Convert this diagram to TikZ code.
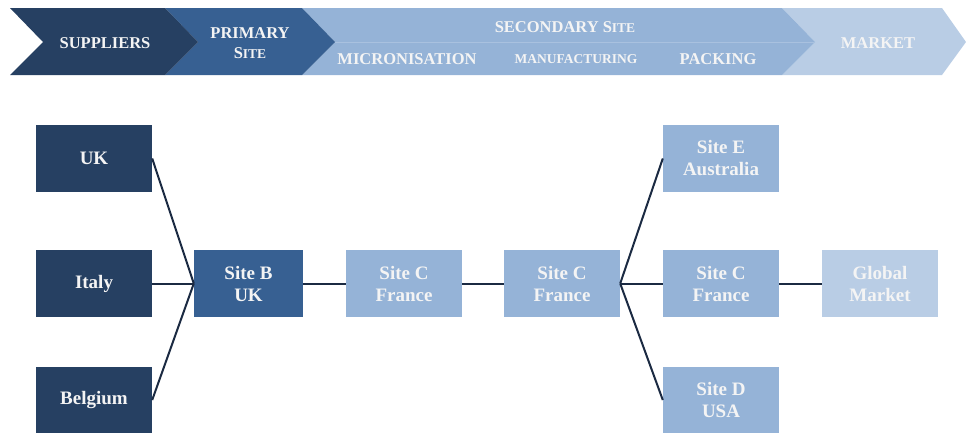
\documentclass[tikz,border=0pt]{standalone}
\usepackage{fontspec}
\setmainfont{Liberation Serif}
\definecolor{navy}{HTML}{264062}
\definecolor{steel}{HTML}{376092}
\definecolor{sky}{HTML}{95B3D7}
\definecolor{pale}{HTML}{B9CDE5}
\definecolor{seam}{HTML}{A9C1DF}
\definecolor{wire}{HTML}{1B2A42}
\definecolor{ink}{HTML}{F4F4F4}
% small capitals imitated with reduced upper case
\newcommand\lowcaps[1]{{\fontsize{13.5}{15}\selectfont #1}}
\tikzset{
  box/.style={rectangle, minimum width=116pt, minimum height=67pt, inner sep=0pt,
    text=ink, align=center, font=\bfseries\fontsize{19}{22}\selectfont},
  stage/.style={text=ink, align=center, inner sep=0pt, font=\bfseries\fontsize{16.5}{20}\selectfont},
  link/.style={draw=wire, line width=2pt},
}
\begin{document}
\begin{tikzpicture}[x=1pt,y=-1pt]
\useasboundingbox (0,0) rectangle (966,432);

% process band (drawn right to left so each arrow tip overlaps the next)
\fill[pale] (782,8) -- (942,8) -- (966,42) -- (942,75) -- (782,75) -- (815,42) -- cycle;
\fill[sky] (302,8) -- (782,8) -- (815,42) -- (782,75) -- (302,75) -- (335,42) -- cycle;
\draw[seam, line width=0.8pt] (302,42) -- (814,42);
\fill[steel] (165,8) -- (302,8) -- (335,42) -- (302,75) -- (165,75) -- (198,42) -- cycle;
\fill[navy] (10,8) -- (165,8) -- (198,42) -- (165,75) -- (10,75) -- (43,42) -- cycle;

\node[stage] (hsup) at (105,43) {SUPPLIERS};
\node[stage] (hpri) at (250,43) {PRIMARY\\S\lowcaps{ITE}};
\node[stage] (hsec) at (565,27) {SECONDARY S\lowcaps{ITE}};
\node[stage] (hmic) at (407,59) {MICRONISATION};
\node[stage] (hman) at (576,59) {\lowcaps{MANUFACTURING}};
\node[stage] (hpac) at (718,59) {PACKING};
\node[stage] (hmar) at (878,43) {MARKET};

% supply chain sites
\node[box, fill=navy] (uk) at (94,158.5) {UK};
\node[box, fill=navy] (italy) at (94,283.5) {Italy};
\node[box, fill=navy] (belgium) at (94,400) {Belgium};
\node[box, fill=steel, minimum width=109pt] (siteb) at (248.5,283.5) {Site B\\UK};
\node[box, fill=sky] (micro) at (404,283.5) {Site C\\France};
\node[box, fill=sky] (manuf) at (562,283.5) {Site C\\France};
\node[box, fill=sky] (sitee) at (721,158.5) {Site E\\Australia};
\node[box, fill=sky] (pack) at (721,283.5) {Site C\\France};
\node[box, fill=sky] (sited) at (721,400) {Site D\\USA};
\node[box, fill=pale] (global) at (880,283.5) {Global\\Market};

% connections
\draw[link] (uk.east) -- (siteb.west);
\draw[link] (italy.east) -- (siteb.west);
\draw[link] (belgium.east) -- (siteb.west);
\draw[link] (siteb.east) -- (micro.west);
\draw[link] (micro.east) -- (manuf.west);
\draw[link] (manuf.east) -- (sitee.west);
\draw[link] (manuf.east) -- (pack.west);
\draw[link] (manuf.east) -- (sited.west);
\draw[link] (pack.east) -- (global.west);
\end{tikzpicture}
\end{document}
